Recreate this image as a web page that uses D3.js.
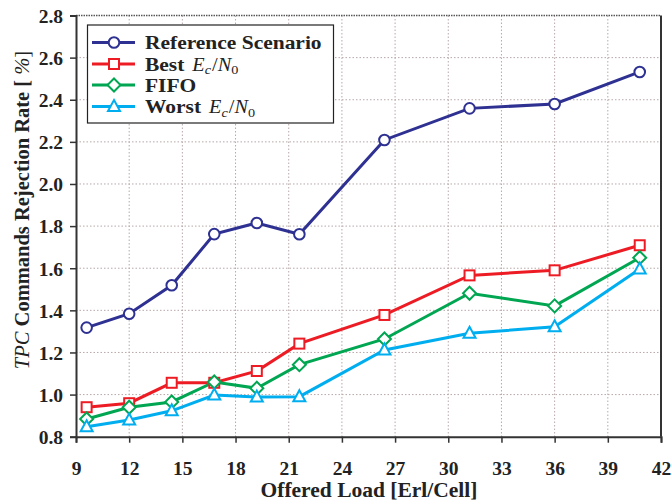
<!DOCTYPE html>
<html><head><meta charset="utf-8">
<script src="https://cdn.jsdelivr.net/npm/d3@7"></script>
<style>body{margin:0;background:#fff}svg{display:block}</style>
</head><body>
<svg id="c" width="672" height="502"></svg>
<script>
const loads = [9.6, 12, 14.4, 16.8, 19.2, 21.6, 26.4, 31.2, 36, 40.8];
const reference = [1.318, 1.384, 1.519, 1.762, 1.815, 1.761, 2.209, 2.359, 2.380, 2.532];
const bestEcN0 = [0.940, 0.959, 1.056, 1.056, 1.112, 1.242, 1.378, 1.566, 1.590, 1.709];
const fifo = [0.884, 0.940, 0.965, 1.060, 1.030, 1.142, 1.264, 1.481, 1.421, 1.650];
const worstEcN0 = [0.847, 0.879, 0.923, 0.998, 0.988, 0.990, 1.212, 1.291, 1.322, 1.596];
const xTicks = [9, 12, 15, 18, 21, 24, 27, 30, 33, 36, 39, 42];
const yTicks = [0.8, 1.0, 1.2, 1.4, 1.6, 1.8, 2.0, 2.2, 2.4, 2.6, 2.8];

const series = [
  {name: "Reference Scenario", values: reference, color: "#2e3192", marker: "circle"},
  {name: "Best", values: bestEcN0, color: "#ed1c24", marker: "square", math: true},
  {name: "FIFO", values: fifo, color: "#00a651", marker: "diamond"},
  {name: "Worst", values: worstEcN0, color: "#00aeef", marker: "triangle", math: true}
];

const svg = d3.select("#c");
const L = 76, R = 661, T = 15.5, B = 436.7;
const x = d3.scaleLinear().domain([9, 42]).range([L, R]);
const y = d3.scaleLinear().domain([0.8, 2.8]).range([B, T]);
const font = "'Liberation Serif','Times New Roman',serif";

// grid
const g = svg.append("g");
g.selectAll(".gx").data(xTicks.slice(1, -1)).join("line")
  .attr("x1", d => x(d)).attr("x2", d => x(d)).attr("y1", T).attr("y2", B)
  .attr("stroke", "#b8a8a8").attr("stroke-width", 1).attr("stroke-dasharray", "1.5,2");
g.selectAll(".gy").data(yTicks.slice(1, -1)).join("line")
  .attr("y1", d => y(d)).attr("y2", d => y(d)).attr("x1", L).attr("x2", R)
  .attr("stroke", "#b8a8a8").attr("stroke-width", 1).attr("stroke-dasharray", "1.5,2");

// top dotted frame
svg.append("line").attr("x1", L).attr("x2", R).attr("y1", T).attr("y2", T)
  .attr("stroke", "#555").attr("stroke-width", 1.5).attr("stroke-dasharray", "1.5,1");
// right frame
svg.append("line").attr("x1", R).attr("x2", R).attr("y1", T).attr("y2", B)
  .attr("stroke", "#333").attr("stroke-width", 2);

// axes
const xAxis = svg.append("g").attr("transform", `translate(0,${B})`)
  .call(d3.axisBottom(x).tickValues(xTicks).tickSize(6).tickFormat(d3.format("d")));
const yAxis = svg.append("g").attr("transform", `translate(${L},0)`)
  .call(d3.axisLeft(y).tickValues(yTicks).tickSize(6).tickFormat(d3.format(".1f")));
[xAxis, yAxis].forEach(a => {
  a.select(".domain").attr("stroke", "#333").attr("stroke-width", 2);
  a.selectAll(".tick line").attr("stroke", "#333").attr("stroke-width", 1.5);
  a.selectAll(".tick text").attr("font-family", font).attr("font-weight", "bold")
    .attr("font-size", 19.5).attr("fill", "#222");
});
xAxis.selectAll(".tick text").attr("dy", null).attr("y", 38.5);
yAxis.selectAll(".tick text").attr("x", -13).attr("dy", "0.35em");

// axis titles
svg.append("text").attr("x", 369).attr("y", 497).attr("text-anchor", "middle")
  .attr("font-family", font).attr("font-weight", "bold").attr("font-size", 21.5).attr("fill", "#222")
  .text("Offered Load [Erl/Cell]");
const yt = svg.append("text").attr("transform", "translate(29,210) rotate(-90)")
  .attr("text-anchor", "middle").attr("font-family", font).attr("font-size", 20.5).attr("fill", "#222");
yt.append("tspan").attr("font-style", "italic").text("TPC");
yt.append("tspan").attr("font-weight", "bold").text(" Commands Rejection Rate [ ");
yt.append("tspan").attr("font-style", "italic").text("%");
yt.append("tspan").text("]");

// markers
function drawMarker(sel, type, color, cx, cy) {
  const st = {stroke: color, "stroke-width": 2, fill: "#fff"};
  let m;
  if (type === "circle") m = sel.append("circle").attr("cx", cx).attr("cy", cy).attr("r", 5.3);
  else if (type === "square") m = sel.append("rect").attr("x", cx - 5).attr("y", cy - 5).attr("width", 10).attr("height", 10);
  else if (type === "diamond") m = sel.append("path").attr("d", `M${cx},${cy-6.5}L${cx+6.5},${cy}L${cx},${cy+6.5}L${cx-6.5},${cy}Z`);
  else m = sel.append("path").attr("d", `M${cx},${cy-6.5}L${cx+6},${cy+4.5}L${cx-6},${cy+4.5}Z`);
  Object.entries(st).forEach(([k, v]) => m.attr(k, v));
}

const line = d3.line().x((d, i) => x(loads[i])).y(d => y(d));
series.forEach(s => {
  svg.append("path").datum(s.values).attr("d", line).attr("fill", "none")
    .attr("stroke", s.color).attr("stroke-width", 3);
});
series.forEach(s => {
  const gm = svg.append("g");
  s.values.forEach((v, i) => drawMarker(gm, s.marker, s.color, x(loads[i]), y(v)));
});

// legend
const lg = svg.append("g");
lg.append("rect").attr("x", 87.5).attr("y", 25).attr("width", 246).attr("height", 98)
  .attr("fill", "#fff").attr("stroke", "#222").attr("stroke-width", 1.2);
const rowsY = [42.5, 64, 85, 106.5];
const fs = 18.5, sx = 1.16;
series.forEach((s, i) => {
  const yy = rowsY[i];
  lg.append("line").attr("x1", 92).attr("x2", 135).attr("y1", yy).attr("y2", yy)
    .attr("stroke", s.color).attr("stroke-width", 3);
  drawMarker(lg, s.marker, s.color, 114, yy);
  const t = lg.append("text").attr("x", 145).attr("y", yy + 6.5)
    .attr("font-family", font).attr("font-size", fs).attr("fill", "#222")
    .attr("font-weight", "bold").text(s.name);
  const w = t.node().getComputedTextLength() * sx;
  t.attr("textLength", w).attr("lengthAdjust", "spacingAndGlyphs");
  if (s.math) {
    const m = lg.append("text").attr("x", 145 + w + 8).attr("y", yy + 6.5)
      .attr("font-family", font).attr("font-size", fs).attr("fill", "#222");
    m.append("tspan").attr("font-style", "italic").text("E");
    m.append("tspan").attr("font-style", "italic").attr("font-size", 13).attr("dy", 3.5).text("c");
    m.append("tspan").attr("dy", -3.5).attr("dx", 1).text("/");
    m.append("tspan").attr("font-style", "italic").text("N");
    m.append("tspan").attr("font-size", 13).attr("dy", 3.5).text("0");
    const mw = m.node().getComputedTextLength();
    m.attr("textLength", mw * 1.12).attr("lengthAdjust", "spacingAndGlyphs");
  }
});
</script>
</body></html>
